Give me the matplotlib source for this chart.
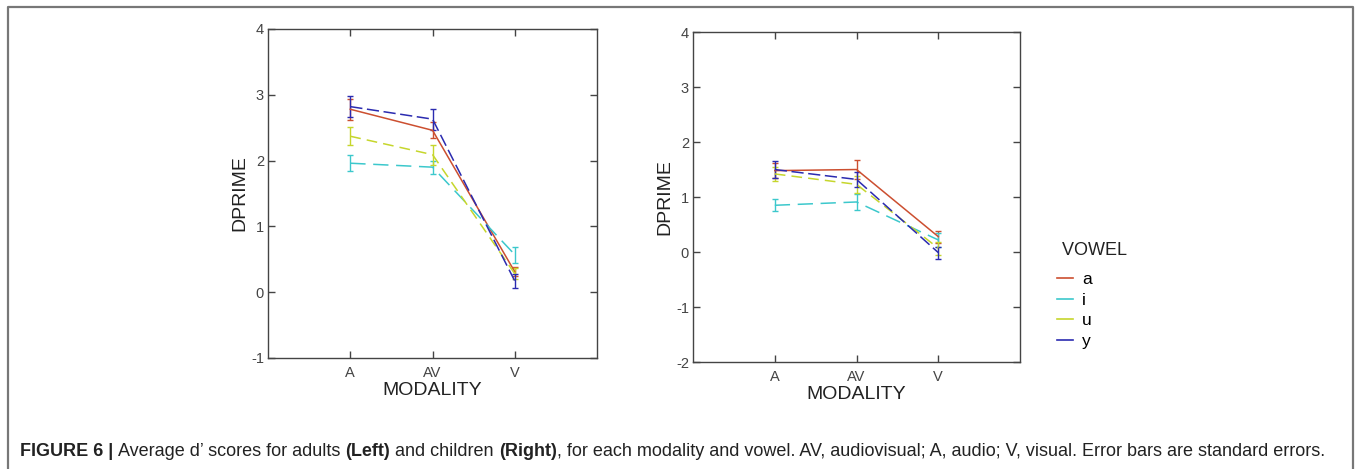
import matplotlib
matplotlib.use("Agg")
import matplotlib.pyplot as plt
from matplotlib.lines import Line2D
import numpy as np

plt.rcParams["font.family"] = ["Liberation Sans", "DejaVu Sans"]
plt.rcParams["axes.unicode_minus"] = False

modalities = ["A", "AV", "V"]
vowels = ["a", "i", "u", "y"]

# adults (left panel): mean d' and standard error per vowel, order A, AV, V
adult_mean = {
    "a": [2.78, 2.46, 0.31],
    "i": [1.96, 1.90, 0.57],
    "u": [2.37, 2.09, 0.28],
    "y": [2.82, 2.63, 0.17],
}
adult_err = {
    "a": [0.16, 0.12, 0.07],
    "i": [0.12, 0.10, 0.12],
    "u": [0.14, 0.15, 0.08],
    "y": [0.16, 0.16, 0.11],
}

# children (right panel)
child_mean = {
    "a": [1.48, 1.50, 0.28],
    "i": [0.85, 0.91, 0.22],
    "u": [1.42, 1.23, 0.07],
    "y": [1.50, 1.32, -0.01],
}
child_err = {
    "a": [0.13, 0.18, 0.11],
    "i": [0.11, 0.15, 0.12],
    "u": [0.12, 0.15, 0.12],
    "y": [0.15, 0.14, 0.11],
}

colors = {"a": "#cc4f30", "i": "#3cc8cc", "u": "#c6d62c", "y": "#2b2bb0"}
dashes = {"a": None, "i": (10, 5), "u": (7, 4), "y": (8, 3)}

fig = plt.figure(figsize=(13.6, 4.69), dpi=100)


def draw_panel(rect, means, errs, ylim):
    ax = fig.add_axes(rect)
    x = np.arange(1, len(modalities) + 1)
    handles = []
    for v in vowels:
        cont = ax.errorbar(x, means[v], yerr=errs[v], color=colors[v], lw=1.1,
                           capsize=2.5, elinewidth=1.0, capthick=1.0)
        line = cont.lines[0]
        if dashes[v] is not None:
            line.set_dashes(dashes[v])
        handles.append(line)
    ax.set_xlim(0, 4)
    ax.set_ylim(*ylim)
    ax.set_xticks(x)
    ax.set_xticklabels(modalities)
    ax.set_yticks(np.arange(ylim[0], ylim[1] + 1))
    ax.tick_params(direction="in", length=5, width=1, color="#444",
                   top=True, right=True, labelsize=10.5, labelcolor="#444")
    ax.tick_params(axis="x", pad=6)
    ax.tick_params(axis="y", pad=3)
    for s in ax.spines.values():
        s.set_color("#444")
        s.set_linewidth(1.0)
    ax.set_xlabel("MODALITY", fontsize=14, labelpad=1, color="#222")
    ax.set_ylabel("DPRIME", fontsize=14, labelpad=2, color="#222")
    return ax, handles


ax_l, handles = draw_panel([0.1971, 0.2367, 0.2419, 0.7015], adult_mean, adult_err, (-1, 4))
ax_r, _ = draw_panel([0.5096, 0.2281, 0.2404, 0.7036], child_mean, child_err, (-2, 4))

leg_handles = [Line2D([], [], color=colors[v], lw=1.2) for v in vowels]
leg = fig.legend(leg_handles, vowels, title=" VOWEL", loc="upper left",
                 bbox_to_anchor=(0.767, 0.513), frameon=False, fontsize=12.5,
                 title_fontsize=13, handlelength=0.9, handletextpad=0.55,
                 labelspacing=0.32, alignment="left", borderpad=0.3)
leg.get_title().set_color("#222")
leg._legend_box.sep = 9

# outer frame like the journal figure box
frame_kw = dict(color="#777", lw=1.6, transform=fig.transFigure)
fig.add_artist(Line2D([8 / 1360, 8 / 1360, 1353 / 1360, 1353 / 1360],
                      [0, 1 - 7 / 469, 1 - 7 / 469, 0], **frame_kw))

# caption, built piece by piece so that bold runs follow on
cap = fig.add_axes([0, 0, 1, 1])
cap.axis("off")
pieces = [
    ("FIGURE 6 | ", "bold"),
    ("Average d\u2019 scores for adults ", "normal"),
    ("(Left)", "bold"),
    (" and children ", "normal"),
    ("(Right)", "bold"),
    (", for each modality and vowel. AV, audiovisual; A, audio; V, visual. "
     "Error bars are standard errors.", "normal"),
]
cap_size = 13.0
prev = cap.text(20 / 1360, 1 - 456 / 469, pieces[0][0], fontsize=cap_size,
                fontweight=pieces[0][1], color="#222", va="baseline",
                transform=fig.transFigure)
for txt, w in pieces[1:]:
    prev = cap.annotate(txt, xy=(1, 0), xycoords=prev, va="bottom", ha="left",
                        fontsize=cap_size, fontweight=w, color="#222")

fig.savefig("out.png", dpi=100)
